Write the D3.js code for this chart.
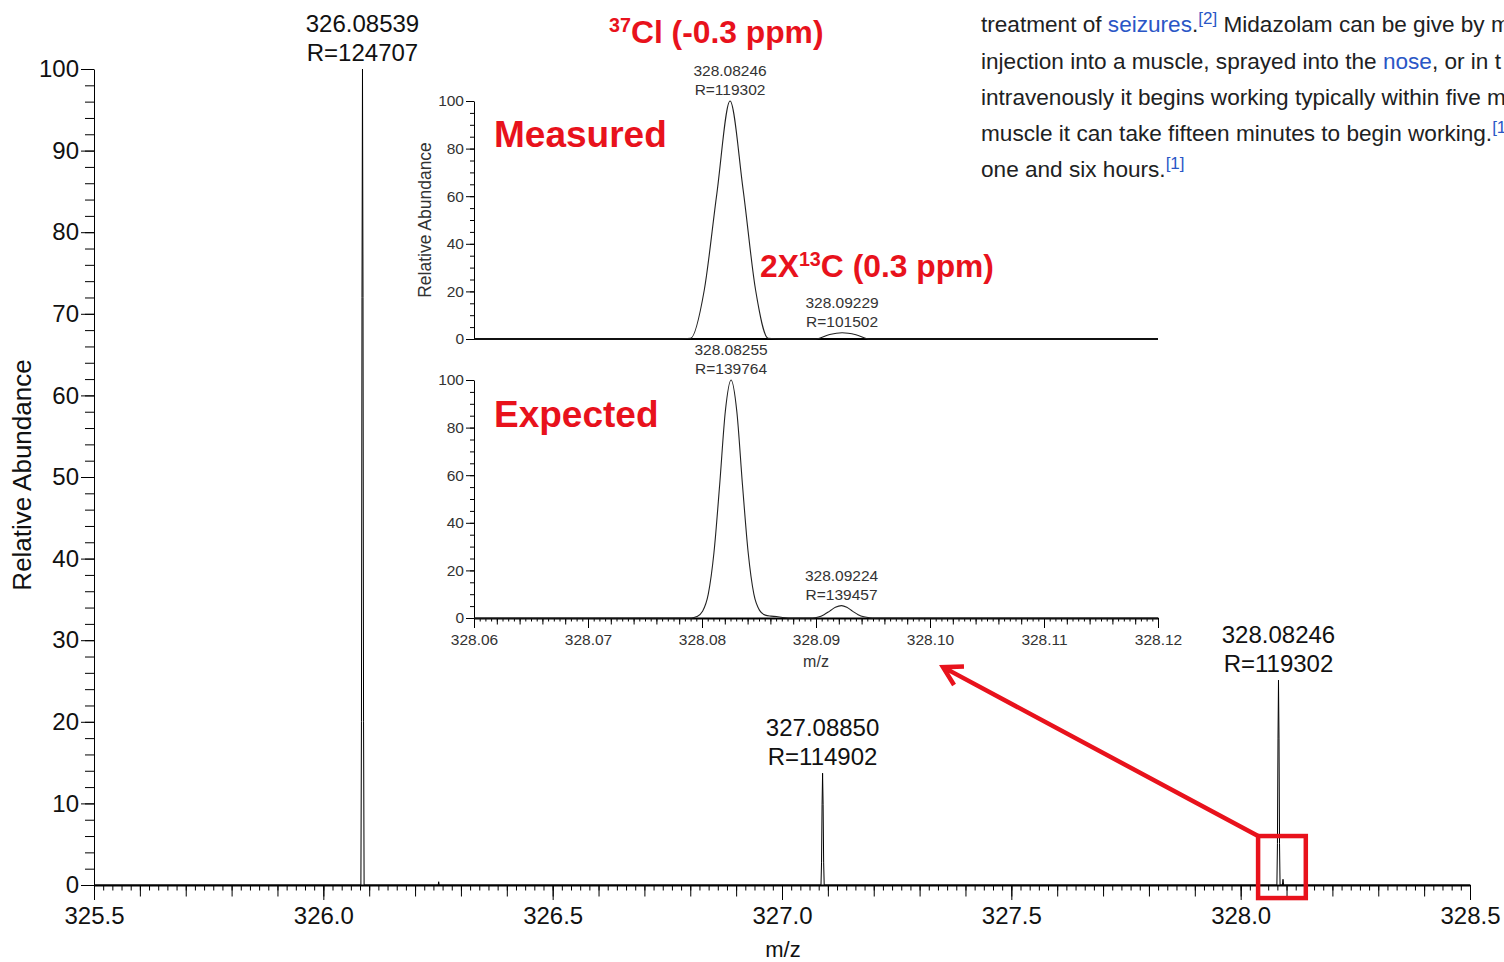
<!DOCTYPE html>
<html>
<head>
<meta charset="utf-8">
<script src="https://cdn.jsdelivr.net/npm/d3@7"></script>
<style>
  html, body { margin: 0; padding: 0; background: #fff; overflow: hidden; }
  svg { display: block; }
</style>
</head>
<body>
<script>
// ---------------- full-range spectrum: [m/z, relative abundance] ----------------
const fullSpectrum = [
  [325.5, 0],
  [326.0819, 0], [326.0831, 20], [326.0843, 72], [326.08539, 100], [326.0865, 72], [326.0877, 20], [326.0889, 0],
  [326.2505, 0], [326.2515, 0.4], [326.2525, 0],
  [327.0850, 0], [327.0862, 2.8], [327.0874, 9.9], [327.08850, 13.7], [327.0896, 9.9], [327.0908, 2.8], [327.0920, 0],
  [328.0790, 0], [328.0802, 5.1], [328.0814, 18], [328.08246, 25.1], [328.0836, 18], [328.0847, 5.1], [328.0859, 0],
  [328.0910, 0], [328.0923, 0.7], [328.0936, 0],
  [328.5, 0]
];
const fullPeakMz   = [326.08539, 327.08850, 328.08246];
const fullPeakTop  = [100, 13.7, 25.1];
const fullPeakRes  = [124707, 114902, 119302];
const fullXTicks   = [325.5, 326.0, 326.5, 327.0, 327.5, 328.0, 328.5];
const fullYTicks   = [0, 10, 20, 30, 40, 50, 60, 70, 80, 90, 100];

// ---------------- zoomed isotope region ----------------
const measuredProfile = [
  [328.06, 0], [328.0778, 0],
  [328.0790, 0.3], [328.0802, 20.6], [328.0813, 61], [328.08246, 100], [328.0836, 63], [328.0847, 20.6], [328.0858, 0.3],
  [328.0870, 0], [328.0900, 0],
  [328.0912, 1.9], [328.09229, 2.6], [328.0935, 1.8], [328.0947, 0],
  [328.12, 0]
];
const measuredPeakMz  = [328.08246, 328.09229];
const measuredPeakTop = [100, 2.6];
const measuredPeakRes = [119302, 101502];

const expectedProfile = [
  [328.06, 0], [328.07905, 0],
  [328.07955, 0.6], [328.08005, 2.8], [328.08055, 10], [328.08105, 27.5], [328.08155, 56], [328.08205, 87],
  [328.08255, 100],
  [328.08305, 87], [328.08355, 56], [328.08405, 27.5], [328.08455, 10], [328.08505, 3.2], [328.08555, 1.2],
  [328.08605, 0.8], [328.08655, 0.6], [328.08705, 0.2], [328.08755, 0],
  [328.0897, 0], [328.0902, 0.4], [328.0907, 1.4], [328.0912, 2.9], [328.0917, 4.5], [328.09224, 5.2],
  [328.0927, 4.5], [328.0932, 2.9], [328.0937, 1.4], [328.0942, 0.5], [328.0947, 0.1], [328.0952, 0],
  [328.12, 0]
];
const expectedPeakMz  = [328.08255, 328.09224];
const expectedPeakTop = [100, 5.2];
const expectedPeakRes = [139764, 139457];

const insetXTicks = [328.06, 328.07, 328.08, 328.09, 328.10, 328.11, 328.12];
const insetYTicks = [0, 20, 40, 60, 80, 100];

// region of the full spectrum that the inset enlarges
const zoomMz = [328.038, 328.142];
const zoomAbundance = [-1.6, 6.0];

// article text beside the figure (runs off the right edge of the page)
const articleLines = [
  [{t: "treatment of "}, {t: "seizures", link: true}, {t: "."}, {t: "[2]", link: true, sup: true}, {t: " Midazolam can be give by m"}],
  [{t: "injection into a muscle, sprayed into the "}, {t: "nose", link: true}, {t: ", or in t"}],
  [{t: "intravenously it begins working typically within five m"}],
  [{t: "muscle it can take fifteen minutes to begin working."}, {t: "[1", link: true, sup: true}],
  [{t: "one and six hours."}, {t: "[1]", link: true, sup: true}]
];

// ---------------- drawing ----------------
const FONT = '"Liberation Sans", Arial, Helvetica, sans-serif';
const RED = "#e8121c";
const svg = d3.select("body").append("svg").attr("width", 1504).attr("height", 962)
  .style("font-family", FONT);

function finishAxis(g, size, color) {
  g.attr("font-family", FONT).attr("font-size", size).attr("color", "#000");
  g.selectAll("text").attr("fill", color);
}
function noDomain(g) { g.select(".domain").remove(); }

// ===== full spectrum =====
const x = d3.scaleLinear().domain([325.5, 328.5]).range([94, 1470]);
const y = d3.scaleLinear().domain([0, 100]).range([885, 69]);

const main = svg.append("g");
// x minor / intermediate / major ticks
main.append("g").attr("transform", `translate(0,${y(0)})`)
  .call(d3.axisBottom(x).tickValues(x.ticks(150)).tickSize(5.5).tickFormat("")).call(noDomain)
  .attr("color", "#000");
main.append("g").attr("transform", `translate(0,${y(0)})`)
  .call(d3.axisBottom(x).tickValues(x.ticks(30)).tickSize(11.5).tickFormat("")).call(noDomain)
  .attr("color", "#000");
const mx = main.append("g").attr("transform", `translate(0,${y(0)})`)
  .call(d3.axisBottom(x).tickValues(fullXTicks).tickSize(15).tickSizeOuter(0).tickPadding(7).tickFormat(d3.format(".1f")));
finishAxis(mx, 24, "#111");
mx.select(".domain").attr("stroke-width", 2);

// y ticks
main.append("g").attr("transform", `translate(${x(325.5)},0)`)
  .call(d3.axisLeft(y).tickValues(y.ticks(50)).tickSize(9).tickFormat("")).call(noDomain)
  .attr("color", "#000");
const my = main.append("g").attr("transform", `translate(${x(325.5)},0)`)
  .call(d3.axisLeft(y).tickValues(fullYTicks).tickSize(13).tickSizeOuter(0).tickPadding(2).tickFormat(d3.format("d")));
finishAxis(my, 24, "#111");

// axis titles
main.append("text").attr("x", 783).attr("y", 957).attr("text-anchor", "middle")
  .attr("font-size", 22).attr("fill", "#111").text("m/z");
main.append("text").attr("transform", "translate(31,475) rotate(-90)").attr("text-anchor", "middle")
  .attr("font-size", 26).attr("fill", "#111").text("Relative Abundance");

// trace
const fullLine = d3.line().x(d => x(d[0])).y(d => y(d[1]));
main.append("path").datum(fullSpectrum).attr("d", fullLine)
  .attr("fill", "none").attr("stroke", "#000").attr("stroke-width", 1);

// peak annotations
fullPeakMz.forEach((mz, i) => {
  const t = main.append("text").attr("text-anchor", "middle").attr("font-size", 24).attr("fill", "#111");
  t.append("tspan").attr("x", x(mz)).attr("y", y(fullPeakTop[i]) - 37).text(d3.format(".5f")(mz));
  t.append("tspan").attr("x", x(mz)).attr("y", y(fullPeakTop[i]) - 8).text("R=" + fullPeakRes[i]);
});

// ===== insets =====
const ix = d3.scaleLinear().domain([328.06, 328.12]).range([474, 1158]);

function drawInset(y0px, y100px, profile, peakMz, peakTop, peakRes, withXAxis) {
  const iy = d3.scaleLinear().domain([0, 100]).range([y0px, y100px]);
  const g = svg.append("g");
  g.append("g").attr("transform", `translate(${ix(328.06)},0)`)
    .call(d3.axisLeft(iy).tickValues(iy.ticks(20)).tickSize(4).tickFormat("")).call(noDomain)
    .attr("color", "#000");
  const ay = g.append("g").attr("transform", `translate(${ix(328.06)},0)`)
    .call(d3.axisLeft(iy).tickValues(insetYTicks).tickSize(8).tickSizeOuter(0).tickPadding(2).tickFormat(d3.format("d")));
  finishAxis(ay, 15.5, "#333");

  if (withXAxis) {
    g.append("g").attr("transform", `translate(0,${iy(0)})`)
      .call(d3.axisBottom(ix).tickValues(ix.ticks(120)).tickSize(3.5).tickFormat("")).call(noDomain)
      .attr("color", "#000");
    g.append("g").attr("transform", `translate(0,${iy(0)})`)
      .call(d3.axisBottom(ix).tickValues(ix.ticks(30)).tickSize(6.5).tickFormat("")).call(noDomain)
      .attr("color", "#000");
    const ax = g.append("g").attr("transform", `translate(0,${iy(0)})`)
      .call(d3.axisBottom(ix).tickValues(insetXTicks).tickSize(10).tickSizeOuter(0).tickPadding(6).tickFormat(d3.format(".2f")));
    finishAxis(ax, 15.5, "#333");
    ax.select(".domain").attr("stroke-width", 2);
    g.append("text").attr("x", ix(328.09)).attr("y", 667).attr("text-anchor", "middle")
      .attr("font-size", 16).attr("fill", "#333").text("m/z");
  } else {
    g.append("line").attr("x1", ix(328.06)).attr("x2", ix(328.12))
      .attr("y1", iy(0)).attr("y2", iy(0)).attr("stroke", "#000").attr("stroke-width", 2.2);
  }

  const line = d3.line().curve(d3.curveMonotoneX).x(d => ix(d[0])).y(d => iy(d[1]));
  g.append("path").datum(profile).attr("d", line)
    .attr("fill", "none").attr("stroke", "#222").attr("stroke-width", 1.1);

  peakMz.forEach((mz, i) => {
    const t = g.append("text").attr("text-anchor", "middle").attr("font-size", 15.5).attr("fill", "#333");
    t.append("tspan").attr("x", ix(mz)).attr("y", iy(peakTop[i]) - 25).text(d3.format(".5f")(mz));
    t.append("tspan").attr("x", ix(mz)).attr("y", iy(peakTop[i]) - 6).text("R=" + peakRes[i]);
  });
  return iy;
}

drawInset(339, 101, measuredProfile, measuredPeakMz, measuredPeakTop, measuredPeakRes, false);
drawInset(618, 380, expectedProfile, expectedPeakMz, expectedPeakTop, expectedPeakRes, true);

svg.append("text").attr("transform", "translate(431,220) rotate(-90)").attr("text-anchor", "middle")
  .attr("font-size", 17.5).attr("fill", "#333").text("Relative Abundance");

// red labels
function redLabel(px, py, size, parts) {
  const t = svg.append("text").attr("x", px).attr("y", py).attr("font-size", size)
    .attr("font-weight", "bold").attr("fill", RED);
  parts.forEach(p => {
    const s = t.append("tspan").text(p.t);
    if (p.sup) s.attr("font-size", size * 0.62).attr("dy", -size * 0.36);
    else if (p.after) s.attr("dy", size * 0.36);
  });
  return t;
}
redLabel(609, 43, 31.8, [{t: "37", sup: true}, {t: "Cl (-0.3 ppm)", after: true}]);
redLabel(760, 277, 31.8, [{t: "2X"}, {t: "13", sup: true}, {t: "C (0.3 ppm)", after: true}]);
redLabel(494, 147, 37, [{t: "Measured"}]);
redLabel(494, 427, 37, [{t: "Expected"}]);

// zoom window and arrow
const bx0 = x(zoomMz[0]), bx1 = x(zoomMz[1]);
const by0 = y(zoomAbundance[1]), by1 = y(zoomAbundance[0]);
svg.append("rect").attr("x", bx0).attr("y", by0).attr("width", bx1 - bx0).attr("height", by1 - by0)
  .attr("fill", "none").attr("stroke", RED).attr("stroke-width", 4.5);

const tip = [x(327.351), y(26.7)];
const tail = [bx0, by0];
const ang = Math.atan2(tail[1] - tip[1], tail[0] - tip[0]);
const armLen = 21, spread = Math.PI / 6;
const arm1 = [tip[0] + armLen * Math.cos(ang + spread), tip[1] + armLen * Math.sin(ang + spread)];
const arm2 = [tip[0] + armLen * Math.cos(ang - spread), tip[1] + armLen * Math.sin(ang - spread)];
svg.append("path")
  .attr("d", `M${tail[0]},${tail[1]}L${tip[0]},${tip[1]}M${arm1[0]},${arm1[1]}L${tip[0]},${tip[1]}L${arm2[0]},${arm2[1]}`)
  .attr("fill", "none").attr("stroke", RED).attr("stroke-width", 4.5)
  .attr("stroke-linecap", "butt").attr("stroke-linejoin", "miter");

// article paragraph
const lineBase = [32, 68.5, 105, 141, 177];
articleLines.forEach((parts, i) => {
  const t = svg.append("text").attr("x", 981).attr("y", lineBase[i]).attr("font-size", 22.6).attr("fill", "#202122");
  let raised = false;
  parts.forEach(p => {
    const s = t.append("tspan").text(p.t);
    if (p.link) s.attr("fill", "#2a56c6");
    if (p.sup) { s.attr("font-size", 17).attr("dy", -8); raised = true; }
    else if (raised) { s.attr("dy", 8); raised = false; }
  });
});
</script>
</body>
</html>
